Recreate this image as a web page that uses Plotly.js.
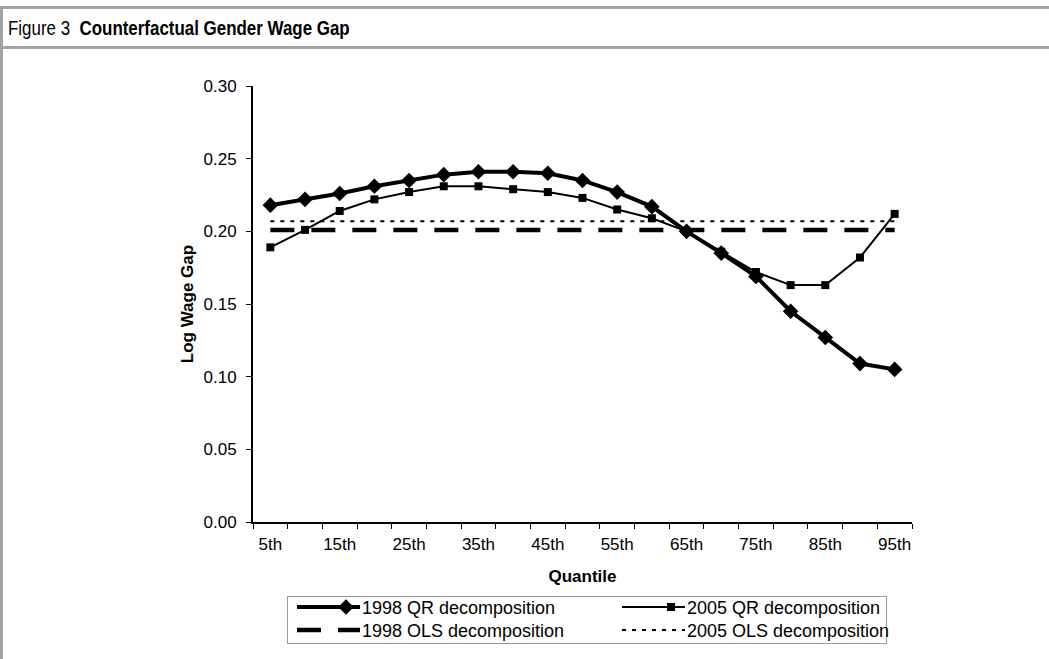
<!DOCTYPE html>
<html>
<head>
<meta charset="utf-8">
<script src="https://cdn.plot.ly/plotly-3.0.1.min.js"></script>
<style>
  html, body { margin: 0; padding: 0; background: #fff; }
  #chart { width: 1049px; height: 659px; }
</style>
</head>
<body>
<div id="chart"></div>
<script>
// ---- data ----
const quantiles = ['5th','10th','15th','20th','25th','30th','35th','40th','45th','50th',
                   '55th','60th','65th','70th','75th','80th','85th','90th','95th'];
const tickLabels = ['5th','','15th','','25th','','35th','','45th','','55th','','65th','','75th','','85th','','95th'];
const qr1998 = [0.218, 0.222, 0.226, 0.231, 0.235, 0.239, 0.241, 0.241, 0.240, 0.235,
                0.227, 0.217, 0.200, 0.185, 0.169, 0.145, 0.127, 0.109, 0.105];
const qr2005 = [0.189, 0.201, 0.214, 0.222, 0.227, 0.231, 0.231, 0.229, 0.227, 0.223,
                0.215, 0.209, 0.200, 0.186, 0.172, 0.163, 0.163, 0.182, 0.212];
const ols1998 = 0.201;
const ols2005 = 0.207;
const seriesNames = ['1998 QR decomposition', '2005 QR decomposition',
                     '1998 OLS decomposition', '2005 OLS decomposition'];

// ---- layout geometry ----
const W = 1049, H = 659;
const M = {l: 253, r: 137, t: 86, b: 137};
const PW = W - M.l - M.r, PH = H - M.t - M.b;
const xp = px => (px - M.l) / PW;
const yp = py => 1 - (py - M.t) / PH;

const baseFont = 'Liberation Sans, Arial, sans-serif';

const traces = [
  {
    x: quantiles, y: qr1998, name: seriesNames[0], type: 'scatter', mode: 'lines+markers',
    line: {color: '#000', width: 4},
    marker: {symbol: 'diamond', size: 12, color: '#000'}
  },
  {
    x: quantiles, y: qr2005, name: seriesNames[1], type: 'scatter', mode: 'lines+markers',
    line: {color: '#000', width: 2},
    marker: {symbol: 'square', size: 8, color: '#000'}
  },
  {
    x: quantiles, y: quantiles.map(() => ols1998), name: seriesNames[2], type: 'scatter', mode: 'lines',
    line: {color: '#000', width: 4.5, dash: '24px,17px'}
  },
  {
    x: quantiles, y: quantiles.map(() => ols2005), name: seriesNames[3], type: 'scatter', mode: 'lines',
    line: {color: '#000', width: 2, dash: '4px,6px'}
  }
];

const frameColor = '#a3a3a3';
const layout = {
  width: W, height: H,
  margin: M,
  paper_bgcolor: '#fff', plot_bgcolor: '#fff',
  font: {family: baseFont, size: 17, color: '#000'},
  title: {
    text: 'Figure 3  <b>Counterfactual Gender Wage Gap</b>',
    font: {family: baseFont, size: 20, color: '#000'},
    xref: 'container', yref: 'container', x: 8 / W, xanchor: 'left', y: 1 - 28 / H, yanchor: 'middle'
  },
  showlegend: true,
  legend: {
    orientation: 'h',
    xref: 'container', yref: 'container',
    x: 287 / W, xanchor: 'left', y: 1 - 596 / H, yanchor: 'top',
    bordercolor: '#9a9a9a', borderwidth: 1, bgcolor: 'rgba(0,0,0,0)',
    font: {family: baseFont, size: 18, color: '#000'},
    itemwidth: 64,
    entrywidth: 246, entrywidthmode: 'pixels', traceorder: 'normal',
    tracegroupgap: 0
  },
  xaxis: {
    type: 'category', range: [-0.5, 18.5], autorange: false,
    tickmode: 'array', tickvals: quantiles, ticktext: tickLabels, tickangle: 0,
    tickson: 'boundaries', ticks: 'outside', ticklen: 5, tickcolor: '#000', tickwidth: 1,
    showline: true, linecolor: '#000', linewidth: 2,
    showgrid: false, zeroline: false, automargin: false,
    ticklabelstandoff: 6,
    tickfont: {size: 17},
    title: {text: '<b>Quantile</b>', font: {size: 17}, standoff: 17}
  },
  yaxis: {
    range: [0, 0.30], autorange: false, dtick: 0.05, tick0: 0, tickformat: '.2f',
    ticks: 'outside', ticklen: 5, tickcolor: '#000', tickwidth: 1,
    showline: true, linecolor: '#000', linewidth: 2,
    showgrid: false, zeroline: false, automargin: false,
    ticklabelstandoff: 6,
    tickfont: {size: 17},
    title: {text: '<b>Log Wage Gap</b>', font: {size: 17}, standoff: 6}
  },
  shapes: [
    {type: 'line', xref: 'paper', yref: 'paper', x0: xp(0), x1: xp(W), y0: yp(7.5), y1: yp(7.5),
     line: {color: frameColor, width: 3}},
    {type: 'line', xref: 'paper', yref: 'paper', x0: xp(0), x1: xp(W), y0: yp(47.5), y1: yp(47.5),
     line: {color: frameColor, width: 3}},
    {type: 'line', xref: 'paper', yref: 'paper', x0: xp(1.5), x1: xp(1.5), y0: yp(6), y1: yp(H),
     line: {color: frameColor, width: 3}}
  ]
};

Plotly.newPlot('chart', traces, layout, {displayModeBar: false, staticPlot: true}).then(gd => {
  // condensed title face: squeeze the title horizontally to the reference width
  const t = gd.querySelector('.gtitle');
  if (t) {
    const bb = t.getBBox();
    const s = 342 / bb.width;
    const x0 = bb.x;
    t.setAttribute('transform', `translate(${x0},0) scale(${s},1) translate(${-x0},0)`);
  }
  // longer legend samples, as in the reference
  const items = [...gd.querySelectorAll('.legend .traces')];
  items.forEach(tr => {
    tr.querySelectorAll('.legendlines path').forEach(p => p.setAttribute('d', 'M9,0h63'));
    tr.querySelectorAll('.legendpoints path').forEach(p => {
      const old = p.getAttribute('transform') || '';
      p.setAttribute('transform', old.replace(/translate\(([^,]+),/, (m, a) => `translate(${parseFloat(a) + 21},`));
    });
  });
  // tighter row spacing, as in the reference
  const rowTargets = [608, 631];
  items.forEach((tr, i) => {
    const row = Math.floor(i / 2);
    const txt = tr.querySelector('text.legendtext');
    const r = (txt || tr).getBoundingClientRect();
    const center = r.top + r.height / 2;
    const delta = rowTargets[row] - center;
    const m = /translate\(\s*([-\d.]+)[ ,]+([-\d.]+)\s*\)/.exec(tr.getAttribute('transform') || '');
    if (m) tr.setAttribute('transform', `translate(${m[1]},${parseFloat(m[2]) + delta})`);
  });
  const bg = gd.querySelector('.legend .bg');
  if (bg) { bg.setAttribute('width', 599); bg.setAttribute('height', 47); }
});
</script>
</body>
</html>
